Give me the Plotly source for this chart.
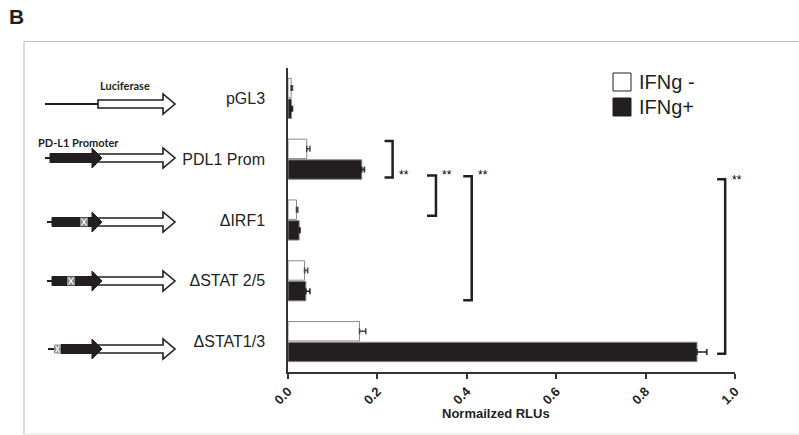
import plotly.graph_objects as go

# ---------------- data ----------------
constructs = ["pGL3", "PDL1 Prom", "ΔIRF1", "ΔSTAT 2/5", "ΔSTAT1/3"]
ifng_minus = [0.007, 0.042, 0.019, 0.037, 0.160]
ifng_minus_err = [0.003, 0.007, 0.003, 0.007, 0.014]
ifng_plus = [0.008, 0.165, 0.025, 0.040, 0.915]
ifng_plus_err = [0.002, 0.006, 0.002, 0.009, 0.022]
x_ticks = [0.0, 0.2, 0.4, 0.6, 0.8, 1.0]
# significance brackets: (x_left, x_right, y_from, y_to, label)
brackets = [
    (0.216, 0.234, 0.70, 1.30, "**"),
    (0.311, 0.331, 1.27, 1.93, "**"),
    (0.392, 0.411, 1.28, 3.32, "**"),
    (0.960, 0.978, 1.33, 4.20, "**"),
]

W, H = 799, 435
ML, MR, MT, MB = 288, 64, 68, 63
PW, PH = W - ML - MR, H - MT - MB


def px(x):
    return (x - ML) / PW


def py(y):
    return (H - MB - y) / PH


DARK = "#231f20"

fig = go.Figure()
fig.add_trace(go.Bar(
    y=constructs, x=ifng_minus, orientation="h", name="IFNg -",
    marker=dict(color="white", line=dict(color="#8a8a8a", width=1)),
    error_x=dict(type="data", array=ifng_minus_err, arrayminus=[0] * 5,
                 symmetric=False, color="#444", thickness=1.5, width=3),
    showlegend=False,
))
fig.add_trace(go.Bar(
    y=constructs, x=ifng_plus, orientation="h", name="IFNg+",
    marker=dict(color=DARK, line=dict(color="#8a8a8a", width=1)),
    error_x=dict(type="data", array=ifng_plus_err, arrayminus=[0] * 5,
                 symmetric=False, color=DARK, thickness=1.5, width=3),
    showlegend=False,
))

shapes = []
annotations = []

# significance brackets
for x0, x1, y0, y1, lab in brackets:
    shapes.append(dict(type="path", xref="x", yref="y",
                       path=f"M{x0},{y0} L{x1},{y0} L{x1},{y1} L{x0},{y1}",
                       line=dict(color=DARK, width=2.5)))
    annotations.append(dict(x=x1 + 0.01, y=(y0 + 0.02 if x1 > 0.9 else 1.26), xref="x", yref="y",
                            text=lab, showarrow=False, xanchor="left", yanchor="middle",
                            font=dict(size=12, color="#000000", family="Liberation Sans")))

# frame
FR = "#c4c4c4"
shapes.append(dict(type="line", xref="paper", yref="paper", x0=px(24), x1=px(799),
                   y0=py(41.5), y1=py(41.5), line=dict(color=FR, width=1.2)))
shapes.append(dict(type="line", xref="paper", yref="paper", x0=px(24), x1=px(24),
                   y0=py(41.5), y1=py(434), line=dict(color=FR, width=1.2)))
shapes.append(dict(type="line", xref="paper", yref="paper", x0=px(24), x1=px(799),
                   y0=py(434), y1=py(434), line=dict(color="#e2e2e2", width=1)))


def poly(points, fill, lc, lw):
    path = "M" + " L".join(f"{px(a)},{py(b)}" for a, b in points) + " Z"
    shapes.append(dict(type="path", xref="paper", yref="paper", path=path,
                       fillcolor=fill, line=dict(color=lc, width=lw)))


def hline(x0, x1, y, w=2, c=DARK):
    shapes.append(dict(type="line", xref="paper", yref="paper", x0=px(x0), x1=px(x1),
                       y0=py(y), y1=py(y), line=dict(color=c, width=w)))


def white_arrow(y, x0=98):
    poly([(x0, y - 4), (163, y - 4), (163, y - 10), (175, y), (163, y + 10),
          (163, y + 4), (x0, y + 4)], "white", DARK, 1.6)


def black_arrow(y, x0):
    poly([(x0, y - 4.5), (92, y - 4.5), (92, y - 10), (102, y), (92, y + 10),
          (92, y + 4.5), (x0, y + 4.5)], DARK, DARK, 1)


def xbox(y, x0, x1):
    shapes.append(dict(type="rect", xref="paper", yref="paper", x0=px(x0), x1=px(x1),
                       y0=py(y + 4.5), y1=py(y - 4.5), fillcolor="#8c8c8c",
                       line=dict(width=0)))
    shapes.append(dict(type="line", xref="paper", yref="paper", x0=px(x0 + 1.5), x1=px(x1 - 1.5),
                       y0=py(y - 3.5), y1=py(y + 3.5), line=dict(color="white", width=1.2)))
    shapes.append(dict(type="line", xref="paper", yref="paper", x0=px(x0 + 1.5), x1=px(x1 - 1.5),
                       y0=py(y + 3.5), y1=py(y - 3.5), line=dict(color="white", width=1.2)))


rows = [104, 158, 222, 281, 349]
# pGL3
hline(45, 98, rows[0])
white_arrow(rows[0])
# PDL1 promoter
hline(45, 52, rows[1])
white_arrow(rows[1])
black_arrow(rows[1], 50)
# dIRF1
hline(47, 54, rows[2])
white_arrow(rows[2])
black_arrow(rows[2], 52)
xbox(rows[2], 80, 88)
# dSTAT2/5
hline(47, 54, rows[3])
white_arrow(rows[3])
black_arrow(rows[3], 52)
xbox(rows[3], 67, 75)
# dSTAT1/3
hline(48, 55, rows[4])
white_arrow(rows[4])
black_arrow(rows[4], 61)
xbox(rows[4], 54, 61)

annotations.append(dict(x=px(125), y=py(85), xref="paper", yref="paper", text="<b>Luciferase</b>",
                        showarrow=False, xanchor="center", yanchor="middle",
                        font=dict(size=11, color=DARK, family="Lato")))
annotations.append(dict(x=px(36), y=py(142), xref="paper", yref="paper", text="<b>PD-L1 Promoter</b>",
                        showarrow=False, xanchor="left", yanchor="middle",
                        font=dict(size=11, color=DARK, family="Lato")))

# panel letter
annotations.append(dict(x=px(7), y=py(16), xref="paper", yref="paper", text="<b>B</b>",
                        showarrow=False, xanchor="left", yanchor="middle",
                        font=dict(size=21, color=DARK, family="Liberation Sans")))

# manual legend
leg = [("IFNg -", "white", 73), ("IFNg+", DARK, 98)]
for name, col, top in leg:
    shapes.append(dict(type="rect", xref="paper", yref="paper", x0=px(613), x1=px(631),
                       y0=py(top + 18), y1=py(top), fillcolor=col,
                       line=dict(color=DARK, width=1)))
    annotations.append(dict(x=px(637), y=py(top + 9), xref="paper", yref="paper", text=name,
                            showarrow=False, xanchor="left", yanchor="middle",
                            font=dict(size=20, color=DARK, family="Liberation Sans")))

# x-axis title
annotations.append(dict(x=0.465, y=py(413), xref="x", yref="paper", text="<b>Normailzed RLUs</b>",
                        showarrow=False, xanchor="center", yanchor="middle",
                        font=dict(size=13, color=DARK, family="Liberation Sans")))

fig.update_layout(
    width=W, height=H,
    margin=dict(l=ML, r=MR, t=MT, b=MB, autoexpand=False),
    paper_bgcolor="white", plot_bgcolor="white",
    barmode="group", bargap=0.32, bargroupgap=0.06,
    shapes=shapes, annotations=annotations,
    showlegend=False,
    xaxis=dict(range=[0, 1.0], tickvals=x_ticks, tickformat=".1f", tickangle=-45,
               ticks="outside", ticklen=5, tickwidth=1.5, tickcolor="#333",
               showline=True, linecolor="#333", linewidth=1.5, showgrid=False, zeroline=False,
               tickfont=dict(size=13, color=DARK, family="Liberation Sans", weight="bold")),
    yaxis=dict(categoryorder="array", categoryarray=constructs, range=[4.5, -0.5],
               showline=True, linecolor="#333", linewidth=1.5, showgrid=False, zeroline=False,
               ticks="", ticklabelstandoff=18,
               tickfont=dict(size=16, color=DARK, family="Liberation Sans")),
)

fig.write_html("out.html", config={"displayModeBar": False},
               post_script="document.body.style.margin='0';document.body.style.overflow='hidden';")
